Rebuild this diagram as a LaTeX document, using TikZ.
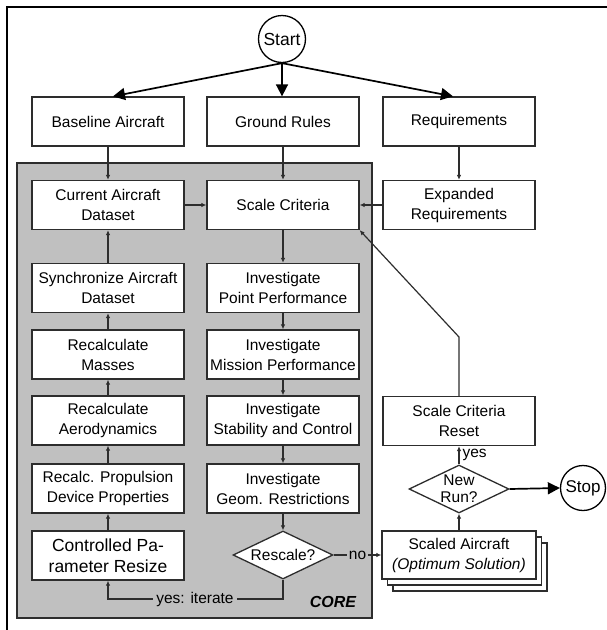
\documentclass[tikz,border=0pt]{standalone}
\usepackage{fontspec}
\setmainfont{Liberation Sans}
\usetikzlibrary{shapes.geometric,shadows,arrows.meta,calc}
\definecolor{coregray}{RGB}{192,192,192}
\definecolor{linecol}{RGB}{45,45,45}
\begin{document}
\begin{tikzpicture}[x=1pt,y=-1pt,
 every node/.style={font=\fontsize{15.5}{20}\selectfont},
 box/.style={draw=linecol, line width=1.3pt, fill=white, minimum width=152pt, minimum height=49pt, align=center, inner sep=2pt},
 decision/.style={diamond, draw=linecol, line width=1.3pt, fill=white, minimum width=100pt, minimum height=48pt, inner sep=0pt},
 term/.style={circle, draw=black, line width=1.3pt, fill=white, minimum size=47pt, inner sep=0pt, font=\fontsize{17.5}{20}\selectfont},
 conn/.style={draw=linecol, line width=1.2pt, -{Latex[length=5pt,width=4.5pt]}},
 bigarr/.style={draw=black, line width=1.7pt, -{Triangle[length=12pt,width=12pt]}}
]
\useasboundingbox (0,0) rectangle (607,630);
% outer frame (only left and top visible)
\draw[line width=1.6pt] (7,630) -- (7,7) -- (607,7);
% core region
\node[draw=linecol, line width=1.3pt, fill=coregray, minimum width=355pt, minimum height=455pt, inner sep=0pt] (core) at (194.5,390.5) {};
\node[font=\bfseries\itshape\fontsize{16}{18}\selectfont] (corelbl) at (333,602) {CORE};

\node[term] (start) at (282,39) {Start};
\node[box] (base) at (108,121.5) {Baseline Aircraft};
\node[box] (ground) at (283,121.5) {Ground Rules};
\node[box] (req) at (459,121.5) {Requirements};
\node[box] (cur) at (108,205) {Current Aircraft\\Dataset};
\node[box] (scale) at (283,205) {Scale Criteria};
\node[box] (exp) at (459,205) {Expanded\\Requirements};
\node[box] (sync) at (108,288) {Synchronize Aircraft\\Dataset};
\node[box] (mass) at (108,354.5) {Recalculate\\Masses};
\node[box] (aero) at (108,420.5) {Recalculate\\Aerodynamics};
\node[box] (prop) at (108,488.5) {Recalc. Propulsion\\Device Properties};
\node[box, font=\fontsize{17.5}{21}\selectfont] (ctrl) at (108,555.5) {Controlled Pa-\\rameter Resize};
\node[box] (ipp) at (283,288) {Investigate\\Point Performance};
\node[box] (imp) at (283,354.5) {Investigate\\Mission Performance};
\node[box] (isc) at (283,420.5) {Investigate\\Stability and Control};
\node[box] (igr) at (283,488.5) {Investigate\\Geom. Restrictions};
\node[decision, label=center:Rescale?] (rescale) at (283,555) {};
\node[box, minimum width=154pt, minimum height=48pt,
      double copy shadow={shadow xshift=5.5pt, shadow yshift=-6pt, draw=linecol, fill=white, line width=1.3pt}]
      (scaled) at (459,555) {Scaled Aircraft\\\textit{(Optimum Solution)}};
\node[decision, label={[align=center,font=\fontsize{15.5}{17}\selectfont]center:New\\Run?}] (newrun) at (459,489) {};
\node[box] (reset) at (459,421) {Scale Criteria\\Reset};
\node[term, minimum size=45pt, font=\fontsize{17}{20}\selectfont] (stop) at (583,488) {Stop};

% start arrows
\draw[bigarr] (start.south) -- ([xshift=5pt]base.north);
\draw[bigarr] (start.south) -- (start.south |- ground.north);
\draw[bigarr] (start.south) -- ([xshift=-6pt]req.north);

% connectors
\draw[conn] (base.south) -- (cur.north);
\draw[conn] (ground.south) -- (scale.north);
\draw[conn] (req.south) -- (exp.north);
\draw[conn] (cur.east) -- (scale.west);
\draw[conn] (exp.west) -- (scale.east);
\draw[conn] (scale.south) -- (ipp.north);
\draw[conn] (ipp.south) -- (imp.north);
\draw[conn] (imp.south) -- (isc.north);
\draw[conn] (isc.south) -- (igr.north);
\draw[conn] (igr.south) -- (rescale.north);
\draw[conn] (ctrl.north) -- (prop.south);
\draw[conn] (prop.north) -- (aero.south);
\draw[conn] (aero.north) -- (mass.south);
\draw[conn] (mass.north) -- (sync.south);
\draw[conn] (sync.north) -- (cur.south);
\coordinate (iterrow) at (195,599);
\draw[conn] (rescale.south) |- (iterrow) -| (ctrl.south);
\node[fill=coregray, inner sep=3pt] (iterlbl) at (iterrow) {yes: iterate};
\draw[conn] (rescale.east) -- (scaled.west) node[midway, fill=coregray, inner sep=1.5pt] (nolbl) {no};
\draw[conn] (scaled.north) -- (newrun.south);
\draw[conn] (newrun.north) -- (reset.south) node[midway, right, inner sep=3pt] (yeslbl) {yes};
\coordinate (bend) at (459,337);
\draw[conn] (reset.north) -- (bend) -- (scale.south east);
\draw[bigarr] (newrun.east) -- (stop.west);
\end{tikzpicture}
\end{document}
